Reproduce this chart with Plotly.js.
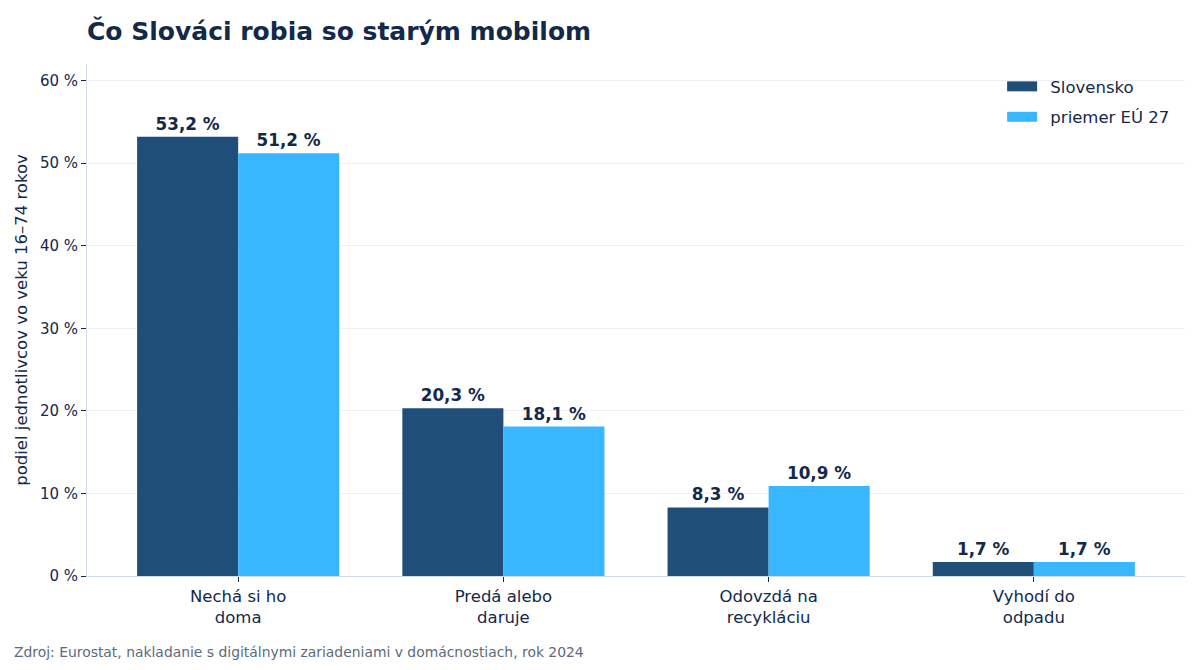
<!DOCTYPE html>
<html>
<head>
<meta charset="utf-8">
<script src="https://cdn.plot.ly/plotly-3.0.1.min.js"></script>
<style>
  html, body { margin: 0; padding: 0; background: #fff; }
  #chart { width: 1200px; height: 670px; }
</style>
</head>
<body>
<div id="chart"></div>
<script>
var categories = ['Nechá si ho<br>doma', 'Predá alebo<br>daruje', 'Odovzdá na<br>recykláciu', 'Vyhodí do<br>odpadu'];
var slovensko = [53.2, 20.3, 8.3, 1.7];
var eu27 = [51.2, 18.1, 10.9, 1.7];
var seriesNames = ['Slovensko', 'priemer EÚ 27'];
var seriesColors = ['#1f4e79', '#38b6ff'];

var NAVY = '#12294a';
var FONT = 'DejaVu Sans';

function labels(vals) {
    return vals.map(function (v) { return v.toFixed(1).replace('.', ',') + ' %'; });
}

function barTrace(vals, i) {
    return {
        x: categories,
        y: vals,
        name: seriesNames[i],
        type: 'bar',
        marker: {color: seriesColors[i]},
        text: labels(vals),
        textposition: 'outside',
        textfont: {family: FONT, size: 16.8, color: NAVY, weight: 'bold'},
        cliponaxis: false,
        showlegend: false,
        hoverinfo: 'none'
    };
}

// legend entries drawn as wide swatches (empty line traces)
function legendTrace(i) {
    return {
        x: [null],
        y: [null],
        name: '\u2002' + seriesNames[i],
        type: 'scatter',
        mode: 'lines',
        line: {color: seriesColors[i], width: 12},
        legendgroup: 'g' + i,
        hoverinfo: 'none'
    };
}

var data = [barTrace(slovensko, 0), barTrace(eu27, 1), legendTrace(0), legendTrace(1)];

var layout = {
    width: 1200,
    height: 670,
    font: {family: FONT, color: NAVY, size: 15},
    paper_bgcolor: '#ffffff',
    plot_bgcolor: '#ffffff',
    title: {
        text: '<b>Čo Slováci robia so starým mobilom</b>',
        font: {family: FONT, size: 25, color: NAVY},
        x: 0.0725,
        xanchor: 'left',
        y: 0.953,
        yanchor: 'middle'
    },
    margin: {l: 87, r: 15, t: 64, b: 94},
    barmode: 'group',
    bargap: 0.238,
    bargroupgap: 0,
    xaxis: {
        type: 'category',
        range: [-0.57, 3.57],
        showline: true,
        linecolor: '#d3dde8',
        linewidth: 1,
        ticks: 'outside',
        ticklen: 5,
        tickcolor: NAVY,
        tickfont: {family: FONT, size: 16.5, color: NAVY},
        showgrid: false
    },
    yaxis: {
        range: [0, 62],
        dtick: 10,
        ticksuffix: ' %',
        showline: true,
        linecolor: '#d3dde8',
        linewidth: 1,
        ticks: 'outside',
        ticklen: 5,
        tickcolor: NAVY,
        tickfont: {family: FONT, size: 15, color: NAVY},
        gridcolor: '#edf1f6',
        zeroline: false,
        title: {text: 'podiel jednotlivcov vo veku 16–74 rokov', font: {family: FONT, size: 16.5, color: NAVY}, standoff: 8}
    },
    showlegend: true,
    legend: {
        x: 0.991,
        xanchor: 'right',
        y: 0.990,
        yanchor: 'top',
        font: {family: FONT, size: 16.5, color: NAVY},
        bgcolor: 'rgba(255,255,255,0)',
        traceorder: 'grouped',
        tracegroupgap: 6,
        itemwidth: 30
    },
    annotations: [{
        text: 'Zdroj: Eurostat, nakladanie s digitálnymi zariadeniami v domácnostiach, rok 2024',
        xref: 'paper', yref: 'paper',
        x: -0.0683, y: -0.149,
        xanchor: 'left', yanchor: 'middle',
        showarrow: false,
        font: {family: FONT, size: 13.9, color: '#5b6b7c'}
    }]
};

Plotly.newPlot('chart', data, layout, {displayModeBar: false, staticPlot: true});
</script>
</body>
</html>
